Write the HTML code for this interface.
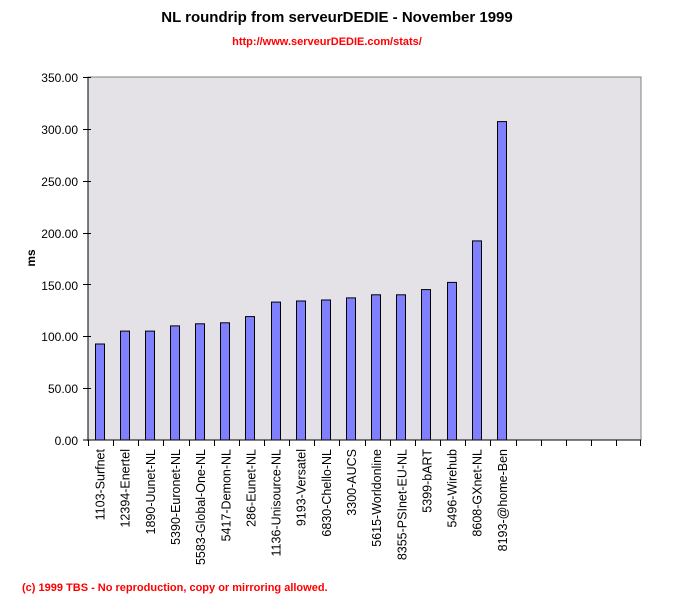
<!DOCTYPE html>
<html><head><style>body{margin:0;background:#fff}svg{display:block}</style></head><body>
<svg width="674" height="596" xmlns="http://www.w3.org/2000/svg" font-family="Liberation Sans, Arial, sans-serif">
<text x="337" y="22" font-size="15" font-weight="bold" text-anchor="middle">NL roundrip from serveurDEDIE - November 1999</text>
<text x="327" y="45" font-size="11" font-weight="bold" fill="#ff0000" text-anchor="middle">http://www.serveurDEDIE.com/stats/</text>
<rect x="88" y="77" width="553" height="363" fill="#e4e2e6" stroke="#808080" stroke-width="1"/>
<line x1="88" y1="77" x2="88" y2="441" stroke="#000"/>
<line x1="83" y1="440" x2="641" y2="440" stroke="#000"/>
<g font-size="12" text-anchor="end">
<text x="78" y="82">350.00</text><line x1="83" y1="77.5" x2="91" y2="77.5" stroke="#000"/>
<text x="78" y="134">300.00</text><line x1="83" y1="129.5" x2="91" y2="129.5" stroke="#000"/>
<text x="78" y="186">250.00</text><line x1="83" y1="181.5" x2="91" y2="181.5" stroke="#000"/>
<text x="78" y="238">200.00</text><line x1="83" y1="233.5" x2="91" y2="233.5" stroke="#000"/>
<text x="78" y="290">150.00</text><line x1="83" y1="284.5" x2="91" y2="284.5" stroke="#000"/>
<text x="78" y="341">100.00</text><line x1="83" y1="336.5" x2="91" y2="336.5" stroke="#000"/>
<text x="78" y="393">50.00</text><line x1="83" y1="388.5" x2="91" y2="388.5" stroke="#000"/>
<text x="78" y="445">0.00</text>
</g>
<text transform="translate(35,258) rotate(-90)" font-size="12" font-weight="bold" text-anchor="middle">ms</text>
<g stroke="#000">
<line x1="88.5" y1="440" x2="88.5" y2="446"/><line x1="113.5" y1="440" x2="113.5" y2="446"/><line x1="138.5" y1="440" x2="138.5" y2="446"/><line x1="163.5" y1="440" x2="163.5" y2="446"/><line x1="189.5" y1="440" x2="189.5" y2="446"/><line x1="214.5" y1="440" x2="214.5" y2="446"/><line x1="239.5" y1="440" x2="239.5" y2="446"/><line x1="264.5" y1="440" x2="264.5" y2="446"/><line x1="289.5" y1="440" x2="289.5" y2="446"/><line x1="314.5" y1="440" x2="314.5" y2="446"/><line x1="339.5" y1="440" x2="339.5" y2="446"/><line x1="365.5" y1="440" x2="365.5" y2="446"/><line x1="390.5" y1="440" x2="390.5" y2="446"/><line x1="415.5" y1="440" x2="415.5" y2="446"/><line x1="440.5" y1="440" x2="440.5" y2="446"/><line x1="465.5" y1="440" x2="465.5" y2="446"/><line x1="490.5" y1="440" x2="490.5" y2="446"/><line x1="516.5" y1="440" x2="516.5" y2="446"/><line x1="541.5" y1="440" x2="541.5" y2="446"/><line x1="566.5" y1="440" x2="566.5" y2="446"/><line x1="591.5" y1="440" x2="591.5" y2="446"/><line x1="616.5" y1="440" x2="616.5" y2="446"/><line x1="640.5" y1="440" x2="640.5" y2="446"/>
</g>
<g fill="#8080ff" stroke="#000">
<rect x="95.5" y="344" width="9" height="96"/>
<rect x="120.5" y="331.1" width="9" height="108.9"/>
<rect x="145.5" y="331.1" width="9" height="108.9"/>
<rect x="170.5" y="325.9" width="9" height="114.1"/>
<rect x="195.5" y="323.8" width="9" height="116.2"/>
<rect x="220.5" y="322.8" width="9" height="117.2"/>
<rect x="245.5" y="316.6" width="9" height="123.4"/>
<rect x="271.5" y="302.1" width="9" height="137.9"/>
<rect x="296.5" y="301" width="9" height="139"/>
<rect x="321.5" y="300" width="9" height="140"/>
<rect x="346.5" y="297.9" width="9" height="142.1"/>
<rect x="371.5" y="294.8" width="9" height="145.2"/>
<rect x="396.5" y="294.8" width="9" height="145.2"/>
<rect x="421.5" y="289.6" width="9" height="150.4"/>
<rect x="447.5" y="282.4" width="9" height="157.6"/>
<rect x="472.5" y="240.9" width="9" height="199.1"/>
<rect x="497.5" y="121.6" width="9" height="318.4"/>
</g>
<g font-size="12.5" text-anchor="end">
<text transform="translate(104.6,449) rotate(-90)">1103-Surfnet</text>
<text transform="translate(129.7,449) rotate(-90)">12394-Enertel</text>
<text transform="translate(154.8,449) rotate(-90)">1890-Uunet-NL</text>
<text transform="translate(180,449) rotate(-90)">5390-Euronet-NL</text>
<text transform="translate(205.1,449) rotate(-90)">5583-Global-One-NL</text>
<text transform="translate(230.3,449) rotate(-90)">5417-Demon-NL</text>
<text transform="translate(255.4,449) rotate(-90)">286-Eunet-NL</text>
<text transform="translate(280.6,449) rotate(-90)">1136-Unisource-NL</text>
<text transform="translate(305.7,449) rotate(-90)">9193-Versatel</text>
<text transform="translate(330.8,449) rotate(-90)">6830-Chello-NL</text>
<text transform="translate(356,449) rotate(-90)">3300-AUCS</text>
<text transform="translate(381.1,449) rotate(-90)">5615-Worldonline</text>
<text transform="translate(406.3,449) rotate(-90)">8355-PSInet-EU-NL</text>
<text transform="translate(431.4,449) rotate(-90)">5399-bART</text>
<text transform="translate(456.5,449) rotate(-90)">5496-Wirehub</text>
<text transform="translate(481.7,449) rotate(-90)">8608-GXnet-NL</text>
<text transform="translate(506.8,449) rotate(-90)">8193-@home-Ben</text>
</g>
<text x="22" y="591" font-size="11" font-weight="bold" fill="#ff0000">(c) 1999 TBS - No reproduction, copy or mirroring allowed.</text>
</svg>
</body></html>
